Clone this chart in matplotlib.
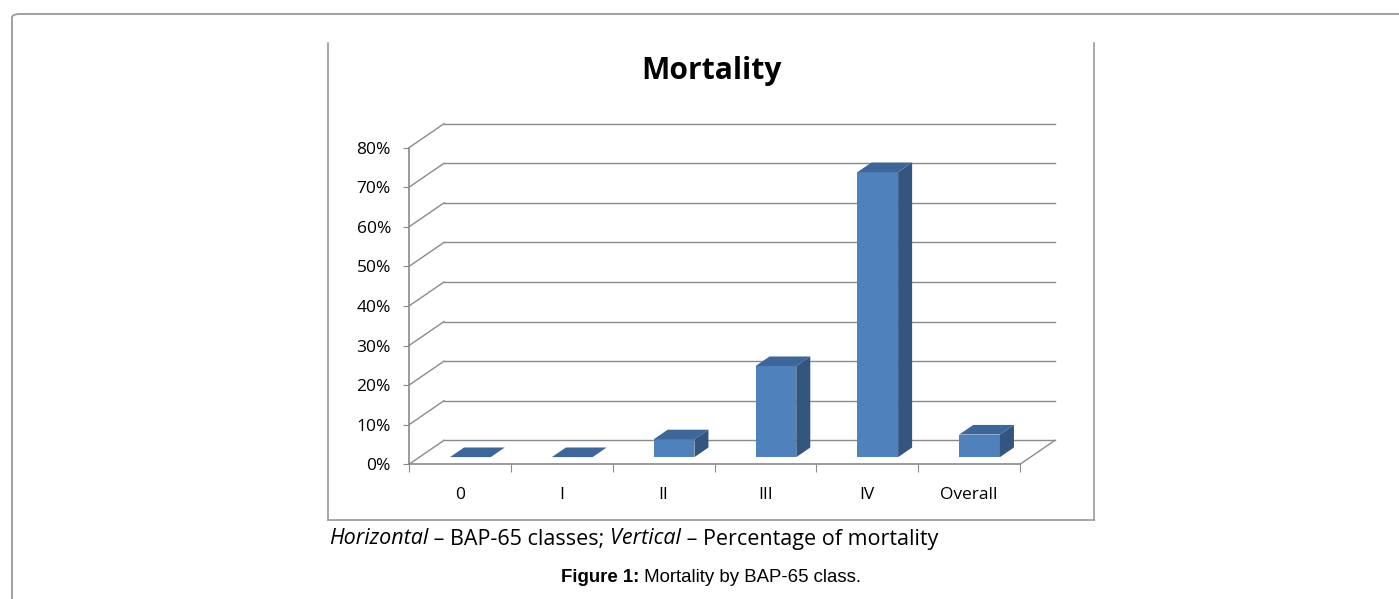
import matplotlib
matplotlib.use('Agg')
import matplotlib.pyplot as plt
from matplotlib.patches import Polygon, FancyBboxPatch
from matplotlib.lines import Line2D

classes = ['0', 'I', 'II', 'III', 'IV', 'Overall']
mortality = [0.0, 0.0, 4.5, 23.0, 72.0, 5.7]
y_ticks = [0, 10, 20, 30, 40, 50, 60, 70, 80]

W, H = 1399, 599
FONT = 'Open Sans'
GRID = '#8a8a8a'
FRONT = '#4f81bd'
TOP = '#3d669a'
SIDE = '#33557f'


def fx(px):
    return px / W


def fy(py):
    return 1 - py / H


fig = plt.figure(figsize=(W / 100, H / 100), dpi=100)

# outer page frame and chart box
fig.patches.append(FancyBboxPatch((fx(12), fy(640)), fx(1450), fy(14) - fy(640),
                                  boxstyle='round,pad=0,rounding_size=0.006',
                                  transform=fig.transFigure, fill=False,
                                  edgecolor='#9a9a9a', lw=1.3))
for xs, ys in [([328, 328], [43, 520]), ([1094, 1094], [43, 520]),
               ([328, 1094], [520, 520])]:
    fig.lines.append(Line2D([fx(v) for v in xs], [fy(v) for v in ys],
                            transform=fig.transFigure, color='#9a9a9a', lw=1.2))

ax = fig.add_axes([fx(409), fy(464.3), fx(1020) - fx(409), fy(147.7) - fy(464.3)])
n = len(classes)
ax.set_xlim(0, n)
ax.set_ylim(0, 80)
ax.patch.set_visible(False)

# depth of the 3d box in data units
dx = 35 / (611 / n)
dy = 24 / (316.6 / 80)

# walls: gridlines on back wall and side wall
for v in y_ticks:
    ax.plot([dx, n + dx], [v + dy, v + dy], color=GRID, lw=1, clip_on=False, zorder=1)
    ax.plot([0, dx], [v, v + dy], color=GRID, lw=1, clip_on=False, zorder=1)
ax.plot([n, n + dx], [0, dy], color=GRID, lw=1, clip_on=False, zorder=1)

# 3d bars
f0, f1 = 0.3, 0.7
for i, val in enumerate(mortality):
    x0 = i + 0.3 + f0 * dx
    x1 = i + 0.7 + f0 * dx
    y0 = f0 * dy
    y1 = val + f0 * dy
    ddx = (f1 - f0) * dx
    ddy = (f1 - f0) * dy
    if val > 0:
        ax.add_patch(Polygon([(x0, y0), (x1, y0), (x1, y1), (x0, y1)],
                             closed=True, facecolor=FRONT, edgecolor='none',
                             clip_on=False, zorder=3))
        ax.add_patch(Polygon([(x1, y0), (x1 + ddx, y0 + ddy), (x1 + ddx, y1 + ddy), (x1, y1)],
                             closed=True, facecolor=SIDE, edgecolor='none',
                             clip_on=False, zorder=3))
    ax.add_patch(Polygon([(x0, y1), (x1, y1), (x1 + ddx, y1 + ddy), (x0 + ddx, y1 + ddy)],
                         closed=True, facecolor=TOP, edgecolor='none',
                         clip_on=False, zorder=3))

for s in ['top', 'right']:
    ax.spines[s].set_visible(False)
for s in ['left', 'bottom']:
    ax.spines[s].set_color(GRID)
    ax.spines[s].set_linewidth(1.2)

ax.set_yticks(y_ticks)
ax.set_yticklabels([f'{v}%' for v in y_ticks], fontfamily=FONT, fontsize=12.5)
ax.tick_params(axis='y', length=4, color=GRID, pad=9)

ax.set_xticks(range(n + 1))
ax.set_xticklabels([])
ax.set_xticks([i + 0.5 for i in range(n)], minor=True)
ax.set_xticklabels(classes, minor=True, fontfamily=FONT, fontsize=12.5)
ax.tick_params(axis='x', which='major', length=6, color=GRID)
ax.tick_params(axis='x', which='minor', length=0, pad=16)

fig.text(fx(711.5), fy(71), 'Mortality', ha='center', va='center',
         fontfamily=FONT, fontweight='bold', fontsize=21.6)

# caption with mixed italic/normal pieces
renderer = fig.canvas.get_renderer()
pieces = [('Horizontal', 'italic'), (' \u2013 BAP-65 classes; ', 'normal'),
          ('Vertical', 'italic'), (' \u2013 Percentage of mortality', 'normal')]
x = fx(329)
for txt, style in pieces:
    t = fig.text(x, fy(539), txt, ha='left', va='center', fontfamily=FONT,
                 fontstyle=style, fontsize=15.5)
    bb = t.get_window_extent(renderer)
    x += bb.width / W

t1 = fig.text(0, fy(577), 'Figure 1:', ha='left', va='center',
              fontfamily='Liberation Sans', fontweight='bold', fontsize=13.4)
t2 = fig.text(0, fy(577), ' Mortality by BAP-65 class.', ha='left', va='center',
              fontfamily='Liberation Sans', fontsize=13.4)
w1 = t1.get_window_extent(renderer).width
w2 = t2.get_window_extent(renderer).width
start = 711 - (w1 + w2) / 2
t1.set_x(start / W)
t2.set_x((start + w1) / W)

fig.savefig('out.png', dpi=100)
